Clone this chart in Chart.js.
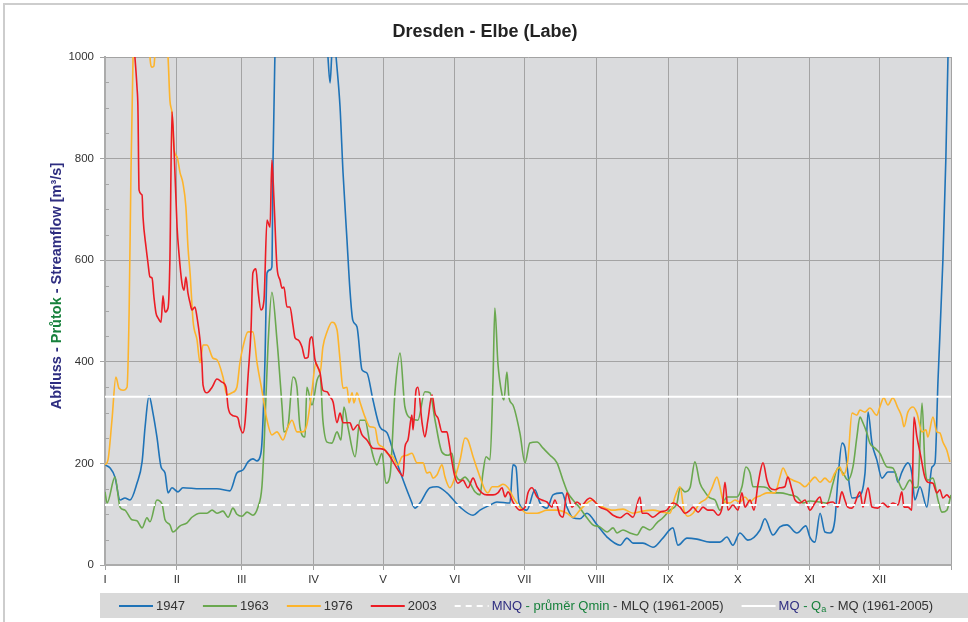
<!DOCTYPE html>
<html>
<head>
<meta charset="utf-8">
<script src="https://cdn.jsdelivr.net/npm/chart.js@4.4.1/dist/chart.umd.min.js"></script>
<style>
	html, body { margin: 0; padding: 0; background: #fff; }
	#wrap { width: 968px; height: 622px; position: relative; }
</style>
</head>
<body>
<div id="wrap"><canvas id="flowChart" width="968" height="622"></canvas></div>
<script>
// month starts (day of year) and their labels
const monthStarts = [0, 31, 59, 90, 120, 151, 181, 212, 243, 273, 304, 334];
const monthLabels = ["I", "II", "III", "IV", "V", "VI", "VII", "VIII", "IX", "X", "XI", "XII"];

// reference flows, m3/s
const mnqValue = 118;
const mqValue = 331;

// 1947
const days1947 = [0, 2.2, 4.3, 6.5, 8.6, 10.8, 13.8, 16, 17.3, 19, 20.7, 22.4, 24.2, 25.9, 27.2, 28.9, 31.5, 33.6, 41, 48.3,
	53.9, 56.9, 59.5, 61.7, 63.8, 65.6, 66.9, 67.7, 69, 69.9, 71.2, 72, 72.5, 73.3, 76, 85, 93, 96.2, 97.1, 97.9,
	98.8, 99.7, 101.4, 102.7, 104.4, 105.7, 106.9, 108.7, 110.9, 113, 115.6, 118.6, 121.7, 124.2, 127.3, 131.6, 133.7, 135.9, 140.2, 143.2,
	147.5, 153.2, 158.8, 161.8, 166.1, 169.1, 174.7, 176, 177.3, 178.6, 182, 185.5, 187.7, 190.7, 193.3, 197.2, 199.3, 201.9, 204.9, 207.9,
	212.3, 216.6, 222.2, 225.2, 227.8, 232.1, 236.4, 240.7, 245, 247.2, 251.1, 255.4, 261, 265.3, 268.3, 270.9, 273.9, 277.4, 282.6, 284.7,
	288.2, 291.2, 294.2, 298.5, 302.4, 304.1, 306.3, 308.5, 310.6, 312.8, 314.9, 316.2, 318, 319.2, 320.5, 322.3, 324.8, 327.9, 329.2, 330.9,
	333, 335.2, 337.8, 340.8, 342.1, 343.8, 346.4, 348.1, 349.4, 351.6, 354.6, 356.8, 358.1, 359.4, 361.5, 362.8, 363.7, 365];
const flow1947 = [197, 191, 173, 128, 132, 128, 161, 203, 272, 333, 299, 252, 193, 181, 142, 152, 144, 152, 150, 150,
	146, 181, 187, 203, 209, 205, 213, 240, 400, 575, 581, 587, 797, 1000, 1500, 1800, 1300, 1000, 949, 1010,
	1050, 1000, 902, 772, 640, 540, 482, 469, 384, 378, 325, 272, 260, 226, 184, 132, 112, 122, 152, 154,
	142, 114, 98, 108, 118, 124, 122, 197, 193, 122, 108, 148, 122, 112, 138, 142, 114, 93, 91, 102,
	79, 55, 39, 53, 43, 43, 35, 53, 73, 39, 53, 51, 45, 45, 55, 39, 63, 49, 69, 91,
	59, 75, 79, 63, 77, 55, 45, 102, 65, 63, 89, 167, 240, 232, 181, 132, 134, 181, 301, 240,
	207, 171, 183, 183, 163, 183, 201, 181, 128, 154, 114, 193, 201, 364, 600, 803, 1000, 1200];

// 1963
const days1963 = [0, 0.9, 4.3, 6.5, 8.6, 11.6, 13.8, 16, 18.1, 19.4, 22.4, 24.6, 25.9, 28, 29.3, 32.4, 35.4, 37.5, 41, 44,
	46.2, 48.3, 50.9, 53.1, 55.2, 56.9, 59.1, 61.3, 63.8, 66, 67.7, 68.6, 70.3, 72, 74.2, 76.4, 77.2, 78.9, 81.1, 82.8,
	84.1, 86.3, 87.1, 89.3, 91.5, 92.8, 94, 95.8, 97.9, 100.1, 101.8, 103.1, 104.8, 107.9, 110, 112.2, 114.3, 117.3, 119.5, 121.2,
	123, 125.1, 127.3, 129.4, 132.4, 135, 138, 140.2, 142.4, 145.4, 148, 149.7, 151, 153.2, 155.3, 157.5, 159.6, 161.8, 163.1, 164.4,
	166.1, 167.4, 168.2, 169.5, 171.3, 172.1, 173.4, 174.3, 176, 179, 181.2, 183.3, 186.4, 189, 192, 195, 197.6, 199.7, 201.9, 204.9,
	207.9, 210.5, 213.5, 216.6, 219.2, 220.9, 223.5, 226.5, 229.5, 232.1, 235.1, 238.1, 240.7, 243.7, 246.8, 248.1, 250.2, 252.4, 254.5, 256.7,
	258.8, 261, 263.2, 265.3, 268.3, 272.6, 274.8, 276.5, 278.3, 279.6, 282.6, 285.6, 288.2, 291.2, 295.5, 298.5, 301.1, 304.1, 308.5, 311.5,
	314.1, 316.2, 318.4, 320.5, 322.7, 324.4, 325.7, 327, 328.7, 330, 332.2, 334.3, 337.4, 339.9, 342.1, 344.3, 347.3, 349.4, 350.7, 352.5,
	353.8, 355, 357.2, 359.4, 361.1, 363.2, 365];
const flow1963 = [144, 122, 173, 114, 108, 89, 87, 73, 93, 85, 128, 120, 89, 79, 65, 77, 83, 94, 102, 102,
	108, 102, 106, 94, 112, 100, 96, 104, 98, 114, 154, 232, 429, 537, 443, 311, 262, 272, 370, 350,
	272, 252, 350, 315, 364, 374, 285, 242, 240, 262, 246, 311, 272, 213, 285, 285, 240, 197, 220, 161,
	177, 340, 417, 311, 288, 285, 341, 339, 285, 222, 216, 220, 183, 167, 173, 161, 144, 138, 183, 213,
	207, 364, 506, 398, 335, 325, 380, 329, 315, 260, 201, 240, 242, 230, 216, 201, 167, 142, 128, 112,
	93, 79, 75, 65, 73, 63, 69, 63, 59, 75, 69, 83, 93, 108, 122, 152, 144, 152, 203, 161,
	144, 132, 128, 108, 134, 134, 154, 193, 181, 154, 154, 152, 142, 142, 138, 134, 122, 126, 124, 122,
	161, 191, 181, 167, 193, 252, 291, 280, 260, 240, 230, 220, 193, 191, 167, 148, 167, 152, 154, 319,
	193, 167, 171, 128, 104, 108, 138];

// 1976
const days1976 = [0, 1.3, 3, 4.7, 6, 7.8, 9.5, 10.4, 11.2, 12.1, 15, 18, 19.4, 20.3, 21.1, 21.6, 24, 27.2, 28, 28.9,
	29.8, 31.1, 32.4, 33.6, 34.9, 35.8, 36.7, 38, 39.7, 41, 42.3, 44, 46.6, 48.3, 50.9, 52.6, 54.8, 56.9, 58.2, 59.5,
	61.7, 63.8, 65.6, 67.7, 69.9, 72, 74.2, 76.8, 78.9, 80.7, 82.8, 85.4, 87.1, 89.3, 91, 92.8, 94, 95.8, 97.9, 100.1,
	101.4, 102.7, 104.4, 105.3, 106.6, 107.4, 108.7, 110, 112.2, 114.3, 116.5, 117.8, 119.9, 121.7, 124.2, 126.4, 128.1, 130.3, 132.4, 134.6,
	137.2, 138.9, 140.2, 141.5, 143.2, 145.4, 146.7, 148.8, 151, 153.2, 155.3, 156.6, 158.8, 161.8, 163.9, 165.2, 167, 169.5, 171.7, 173.9,
	176, 179, 182, 186.4, 190.7, 195, 199.3, 201.9, 204.9, 207.9, 210.5, 212.3, 214.8, 219.2, 223.5, 227.8, 232.1, 236.4, 240.7, 243.7,
	245.9, 248.1, 249.8, 251.5, 253.7, 256.7, 259.7, 261.9, 264, 265.3, 266.6, 269.6, 271.8, 273.9, 276.1, 278.3, 280.4, 282.6, 285.6, 289,
	291.2, 292.5, 294.6, 296.8, 299.9, 302, 304.1, 306.3, 308.5, 310.6, 312.8, 314.9, 317.1, 318.4, 320.5, 322.3, 324.4, 325.7, 327.9, 330,
	333, 334.3, 336, 337.8, 339.9, 342.1, 343.8, 344.7, 346.4, 348.6, 350.3, 352.5, 354.2, 355, 357.2, 358.9, 360.2, 361.5, 363.2, 364.5];
const flow1976 = [197, 207, 285, 370, 348, 344, 350, 496, 772, 1000, 1350, 1150, 1000, 980, 982, 1010, 1150, 1000, 915, 890,
	817, 803, 772, 752, 705, 626, 575, 480, 443, 398, 433, 433, 407, 404, 370, 335, 339, 350, 398, 429,
	459, 459, 398, 344, 285, 256, 262, 246, 272, 285, 262, 262, 276, 344, 398, 378, 429, 459, 478, 463,
	404, 348, 350, 319, 339, 319, 339, 321, 291, 272, 270, 240, 232, 220, 213, 197, 213, 216, 220, 201,
	201, 181, 183, 171, 177, 197, 173, 152, 173, 207, 250, 246, 213, 173, 148, 142, 154, 154, 159, 152,
	134, 114, 102, 102, 108, 108, 102, 94, 108, 122, 128, 120, 114, 108, 110, 102, 106, 108, 104, 102,
	134, 154, 108, 96, 102, 122, 132, 152, 173, 154, 128, 122, 128, 124, 134, 124, 132, 136, 142, 142,
	173, 191, 173, 167, 161, 154, 163, 173, 163, 171, 163, 181, 193, 177, 207, 299, 295, 305, 301, 309,
	295, 311, 329, 315, 329, 309, 291, 272, 301, 311, 299, 262, 266, 252, 291, 262, 260, 242, 226, 203];

// 2003
const days2003 = [0, 4, 8, 11, 12.9, 13.8, 14.2, 14.7, 16, 16.4, 17.7, 18.5, 19.4, 20.3, 21.1, 22, 22.9, 24.2, 25, 25.9,
	27.2, 28, 28.9, 29.8, 31.1, 31.9, 33.2, 34.1, 34.9, 35.8, 36.7, 37.5, 38.8, 39.7, 41, 41.8, 42.3, 44, 46.2, 48.3,
	50.5, 52.2, 53.1, 54.8, 56.1, 57.4, 58.2, 59.5, 60.4, 61.7, 63, 63.8, 65.1, 66, 67.3, 68.6, 69.9, 70.3, 71.2, 72,
	72.9, 74.2, 75.5, 76.4, 77.2, 78.5, 79.8, 81.1, 82, 83.3, 85, 86.3, 87.6, 88.4, 89.3, 90.6, 92.8, 94, 95.8, 97.1,
	98.4, 100.1, 101.4, 102.7, 105.7, 107, 109.1, 110.9, 113, 115.6, 118.6, 120.8, 123, 125.1, 127.3, 128.6, 129.4, 130.7, 132.4, 132.9,
	134.2, 135, 136.8, 138, 139.3, 141.1, 142.4, 143.7, 145.4, 147.5, 148.4, 149.7, 151, 152.3, 154.4, 156.6, 158.8, 160.5, 162.6, 164.8,
	167.4, 169.5, 171.3, 172.6, 173.9, 176, 179, 181.2, 182.5, 184.2, 186.4, 188.5, 190.7, 192.8, 194.1, 196.3, 197.6, 199.3, 201.5, 203.6,
	205.8, 207.9, 209.2, 211.4, 213.5, 216.6, 219.2, 222.2, 225.2, 227.8, 230.8, 231.7, 233.8, 236.4, 239.4, 242.4, 245, 248.1, 250.2, 252.4,
	253.7, 255.9, 258, 260.1, 262.3, 264.5, 266.3, 267.5, 268.8, 270.9, 273.1, 274.8, 276.1, 278.3, 280, 281.7, 283.9, 285.6, 286.9, 289,
	291.2, 293.3, 294.6, 296.4, 297.7, 299.9, 302, 304.1, 306.3, 308.5, 309.7, 311.9, 314.1, 316.2, 317.9, 319.2, 320.5, 322.3, 323.6, 325.7,
	327, 329.2, 330.9, 333.5, 335.6, 337.8, 339.9, 342.1, 343.8, 344.7, 346.4, 348.1, 349, 350.3, 352, 353.7, 355, 357.2, 358.9, 360.2,
	361.5, 363.2, 364.5];
const flow2003 = [1250, 1450, 1350, 1100, 1000, 941, 902, 738, 728, 685, 626, 596, 567, 565, 528, 496, 486, 478, 530, 498,
	506, 600, 892, 817, 665, 614, 555, 541, 567, 535, 516, 502, 508, 488, 443, 400, 354, 339, 350, 366,
	360, 350, 311, 295, 293, 289, 272, 260, 280, 370, 463, 575, 583, 541, 502, 522, 679, 675, 665, 797,
	719, 587, 561, 545, 547, 508, 508, 472, 447, 443, 429, 407, 409, 443, 449, 404, 378, 344, 341, 331,
	321, 280, 299, 280, 280, 266, 276, 256, 246, 230, 229, 226, 213, 197, 181, 175, 232, 246, 295, 266,
	344, 350, 280, 252, 285, 335, 299, 289, 262, 262, 242, 203, 173, 161, 167, 152, 171, 154, 142, 138,
	138, 142, 152, 134, 144, 124, 108, 114, 142, 152, 134, 128, 124, 114, 128, 98, 94, 142, 114, 124,
	118, 128, 132, 124, 114, 108, 98, 93, 102, 94, 134, 102, 102, 94, 104, 108, 122, 114, 102, 108,
	114, 104, 114, 108, 108, 98, 114, 163, 108, 118, 108, 142, 114, 128, 108, 158, 201, 167, 152, 148,
	152, 154, 173, 148, 128, 122, 128, 108, 122, 134, 114, 122, 124, 114, 144, 128, 114, 112, 122, 144,
	114, 152, 114, 112, 122, 114, 122, 118, 144, 114, 114, 108, 291, 252, 213, 173, 163, 161, 142, 148,
	132, 138, 132];

const C1947 = "#1f73b7";
const C1963 = "#6aa84f";
const C1976 = "#fdb42b";
const C2003 = "#ec1c24";
const NAVY = "#2e2d80";
const GREEN = "#17813c";
const DARK = "#333333";
const FONT = "'Liberation Sans', Arial, sans-serif";

function pts(days, flows) {
	return days.map((d, i) => ({ x: d, y: flows[i] }));
}

function series(label, days, flows, color, order) {
	return {
		label: label,
		data: pts(days, flows),
		borderColor: color,
		borderWidth: 1.6,
		pointRadius: 0,
		cubicInterpolationMode: "monotone",
		order: order,
	};
}

const datasets = [
	series("1947", days1947, flow1947, C1947, 5),
	series("1963", days1963, flow1963, C1963, 4),
	series("1976", days1976, flow1976, C1976, 3),
	series("2003", days2003, flow2003, C2003, 2),
	{
		label: "MNQ",
		data: [{ x: 0, y: mnqValue }, { x: 365, y: mnqValue }],
		borderColor: "#ffffff",
		borderWidth: 2,
		borderDash: [8, 6],
		pointRadius: 0,
		order: 1,
	},
	{
		label: "MQ",
		data: [{ x: 0, y: mqValue }, { x: 365, y: mqValue }],
		borderColor: "#ffffff",
		borderWidth: 2,
		pointRadius: 0,
		order: 0,
	},
];

// draw several coloured pieces of text one after the other
function drawParts(ctx, parts, x, y, size, bold) {
	for (const p of parts) {
		const sub = p[2] === "sub";
		const fs = sub ? size * 0.7 : size;
		ctx.font = (bold ? "bold " : "") + fs + "px " + FONT;
		ctx.fillStyle = p[1];
		ctx.fillText(p[0], x, sub ? y + size * 0.25 : y);
		x += ctx.measureText(p[0]).width;
	}
	return x;
}

function partsWidth(ctx, parts, size, bold) {
	let w = 0;
	for (const p of parts) {
		const fs = p[2] === "sub" ? size * 0.7 : size;
		ctx.font = (bold ? "bold " : "") + fs + "px " + FONT;
		w += ctx.measureText(p[0]).width;
	}
	return w;
}

const decorations = {
	id: "decorations",
	beforeDraw(chart) {
		const { ctx, chartArea: a } = chart;
		ctx.save();
		// outer frame
		ctx.fillStyle = "#cdcdcd";
		ctx.fillRect(3, 3, chart.width - 3, 2);
		ctx.fillRect(3, 3, 2, chart.height - 3);
		// plot background
		ctx.fillStyle = "#dadbdd";
		ctx.fillRect(a.left, a.top, a.right - a.left, a.bottom - a.top);
		ctx.restore();
	},
	afterDraw(chart) {
		const { ctx, chartArea: a, scales: { y } } = chart;
		ctx.save();
		// minor ticks inside the y axis
		ctx.strokeStyle = "#a6a6a6";
		ctx.lineWidth = 1;
		for (let v = 50; v < 1000; v += 50) {
			if (v % 200 === 0) continue;
			const py = Math.round(y.getPixelForValue(v)) + 0.5;
			ctx.beginPath();
			ctx.moveTo(a.left, py);
			ctx.lineTo(a.left + 4, py);
			ctx.stroke();
		}

		// title, centred on the whole picture
		ctx.font = "bold 18px " + FONT;
		ctx.fillStyle = "#222";
		ctx.textAlign = "center";
		ctx.textBaseline = "middle";
		ctx.fillText("Dresden - Elbe (Labe)", chart.width / 2 + 1, 32);

		// y axis title
		ctx.textAlign = "left";
		const yTitle = [["Abfluss", NAVY], [" - ", NAVY], ["Průtok", GREEN], [" - Streamflow [m³/s]", NAVY]];
		const tw = partsWidth(ctx, yTitle, 14.5, true);
		ctx.save();
		ctx.translate(57, 286);
		ctx.rotate(-Math.PI / 2);
		drawParts(ctx, yTitle, -tw / 2, 0, 14.5, true);
		ctx.restore();

		// legend
		ctx.fillStyle = "#d9d9d9";
		ctx.fillRect(100, 593, chart.width - 100, 25);
		const items = [
			{ color: C1947, dash: [], parts: [["1947", DARK]] },
			{ color: C1963, dash: [], parts: [["1963", DARK]] },
			{ color: C1976, dash: [], parts: [["1976", DARK]] },
			{ color: C2003, dash: [], parts: [["2003", DARK]] },
			{ color: "#ffffff", dash: [6, 5], parts: [["MNQ", NAVY], [" - průměr Qmin", GREEN], [" - MLQ (1961-2005)", DARK]] },
			{ color: "#ffffff", dash: [], parts: [["MQ", NAVY], [" - Q", GREEN], ["a", GREEN, "sub"], [" - MQ (1961-2005)", DARK]] },
		];
		let lx = 119;
		const ly = 606;
		for (const it of items) {
			ctx.strokeStyle = it.color;
			ctx.lineWidth = 2;
			ctx.setLineDash(it.dash);
			ctx.beginPath();
			ctx.moveTo(lx, ly);
			ctx.lineTo(lx + 34, ly);
			ctx.stroke();
			ctx.setLineDash([]);
			lx = drawParts(ctx, it.parts, lx + 37, ly, 13, false) + 18;
		}
		ctx.restore();
	},
};

new Chart(document.getElementById("flowChart"), {
	type: "line",
	data: { datasets: datasets },
	plugins: [decorations],
	options: {
		responsive: false,
		animation: false,
		devicePixelRatio: 1,
		layout: { padding: { left: 0, top: 57, right: 17, bottom: 0 } },
		plugins: {
			legend: { display: false },
			title: { display: false },
			tooltip: { enabled: false },
		},
		scales: {
			x: {
				type: "linear",
				min: 0,
				max: 365,
				afterBuildTicks(scale) {
					scale.ticks = monthStarts.concat([365]).map((v) => ({ value: v }));
				},
				afterFit(scale) {
					scale.height = 57;
				},
				ticks: {
					autoSkip: false,
					maxRotation: 0,
					padding: 3,
					color: DARK,
					font: { family: FONT, size: 11.5 },
					callback: (v, i) => monthLabels[i] || "",
				},
				grid: {
					color: "#a3a3a3",
					lineWidth: 1,
					tickLength: 5,
					tickColor: "#a3a3a3",
				},
				border: { color: "#ababab", width: 2 },
			},
			y: {
				min: 0,
				max: 1000,
				afterFit(scale) {
					scale.width = 105;
				},
				ticks: {
					stepSize: 50,
					padding: 6,
					color: DARK,
					font: { family: FONT, size: 11.5 },
					callback: (v) => (v % 200 === 0 ? v : ""),
				},
				grid: {
					color: (c) => (c.tick && c.tick.value % 200 === 0 ? "#a3a3a3" : "rgba(0,0,0,0)"),
					tickColor: (c) => (c.tick && c.tick.value % 200 === 0 ? "#a3a3a3" : "rgba(0,0,0,0)"),
					lineWidth: 1,
					tickLength: 5,
				},
				border: { color: "#ababab", width: 2 },
			},
		},
	},
});
</script>
</body>
</html>
